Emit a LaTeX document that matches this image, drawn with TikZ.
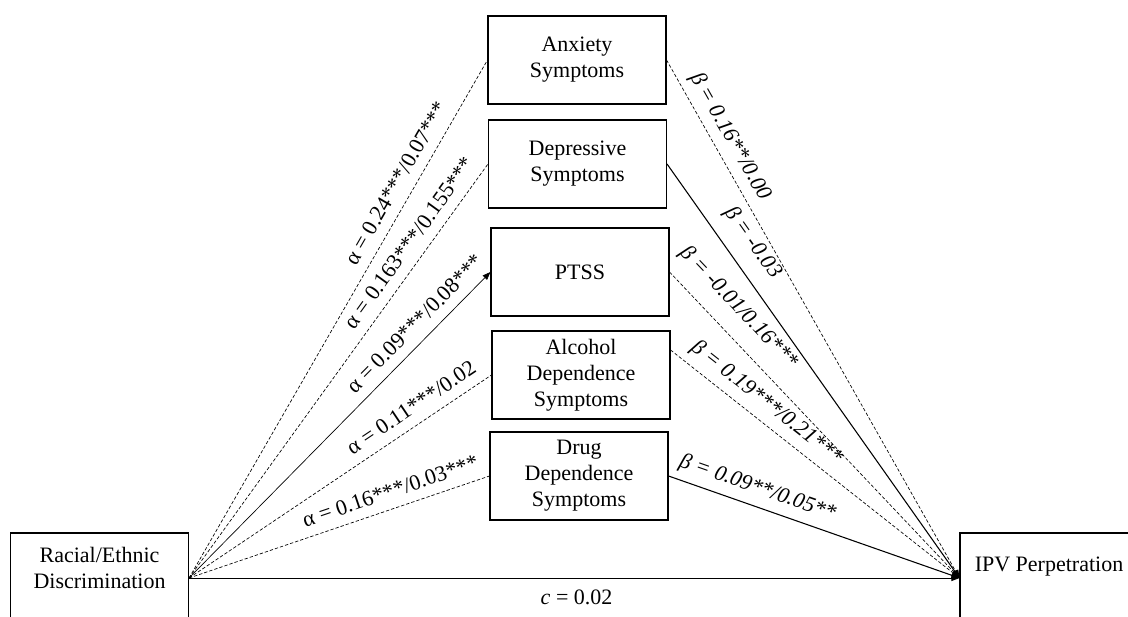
\documentclass[tikz,border=0pt]{standalone}
\usepackage{fontspec}
\setmainfont{Liberation Serif}
\usetikzlibrary{arrows.meta}
\begin{document}
\begin{tikzpicture}[x=0.75pt,y=-0.75pt,
  box/.style={draw,line width=0.8pt,minimum width=133.5pt,minimum height=66pt,inner sep=0pt,align=center,font=\fontsize{16.5}{19.5}\selectfont},
  sidebox/.style={box,minimum height=67.5pt},
  txt/.style={inner sep=0pt,align=center,font=\fontsize{16.5}{19.5}\selectfont},
  dline/.style={line width=0.5pt,dash pattern=on 2.5pt off 1.5pt},
  sline/.style={line width=0.8pt},
  tip/.style={-{Triangle[length=6pt,width=4.5pt]}},
  alab/.style={sloped,above=5.5pt,inner sep=2pt,font=\fontsize{16.5}{19.5}\selectfont},
  blab/.style={sloped,above=3.5pt,inner sep=2pt,font=\fontsize{16.5}{19.5}\selectfont\itshape},
  clab/.style={below=6.5pt,inner sep=2pt,font=\fontsize{16.5}{19.5}\selectfont}
]
\useasboundingbox (0,0) rectangle (1128,617);
\clip (0,0) rectangle (1128,617);

% side boxes
\node[sidebox] (rdbox) at (99.5,578) {};
\node[txt] (rd) at (99.5,568) {Racial/Ethnic\\Discrimination};
\node[sidebox] (ipvbox) at (1049,578) {};
\node[txt] (ipv) at (1049,567) {IPV Perpetration};

% mediators
\node[box] (anx) at (577,60) {Anxiety\\Symptoms};
\node[box] (dep) at (577.5,164) {Depressive\\Symptoms};
\node[box] (ptss) at (580,272) {PTSS};
\node[box] (alc) at (581,375) {Alcohol\\Dependence\\Symptoms};
\node[box] (drug) at (579,476) {Drug\\Dependence\\Symptoms};

% a paths
\draw[dline] (rdbox.east) -- (anx.west) node[alab,pos=0.745] (a1) {α = 0.24***/0.07***};
\draw[dline] (rdbox.east) -- (dep.west) node[alab,pos=0.785] (a2) {α = 0.163***/0.155***};
\draw[line width=0.5pt,tip] (rdbox.east) -- (ptss.west) node[alab,pos=0.791] (a3) {α = 0.09***/0.08***};
\draw[dline] (rdbox.east) -- (alc.west) node[alab,pos=0.767] (a4) {α = 0.11***/0.02};
\draw[dline] (rdbox.east) -- (drug.west) node[alab,pos=0.689] (a5) {α = 0.16***/0.03***};

% b paths
\draw[dline,tip] (anx.east) -- (ipvbox.west) node[blab,pos=0.165] (b1) {β = 0.16**/0.00};
\draw[sline,tip] (dep.east) -- (ipvbox.west) node[blab,above=5pt,pos=0.225] (b2) {β = -0.03};
\draw[dline,tip] (ptss.east) -- (ipvbox.west) node[blab,above=6pt,pos=0.175] (b3) {β = -0.01/0.16***};
\draw[dline,tip] ([yshift=18.75pt]alc.east) -- (ipvbox.west) node[blab,pos=0.294] (b4) {β = 0.19***/0.21***};
\draw[sline,tip] (drug.east) -- (ipvbox.west) node[blab,pos=0.285] (b5) {β = 0.09**/0.05**};

% c path
\draw[line width=0.6pt,tip] (rdbox.east) -- (ipvbox.west) node[clab,pos=0.503] (c) {\textit{c} = 0.02};
\end{tikzpicture}
\end{document}
